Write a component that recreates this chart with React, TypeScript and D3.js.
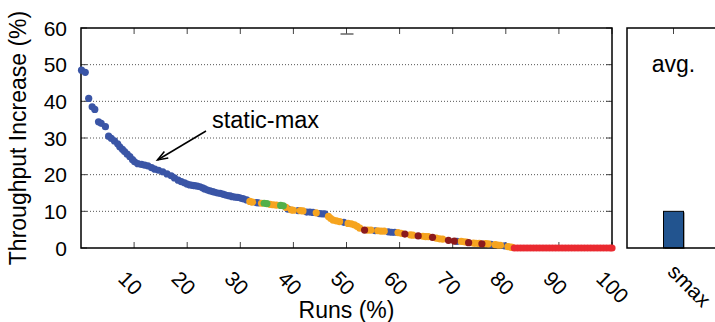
import * as d3 from "d3";
import React, { useEffect, useRef } from "react";

// runs (%) vs throughput increase (%), one list per policy colour
const blueRuns: [number, number][] = [
  [0.1, 48.5], [0.8, 47.9], [1.45, 40.8], [2.1, 38.5], [2.6, 37.8], [3.3, 34.4], [3.8, 34.0],
  [4.6, 33.1], [5.2, 30.5], [5.7, 29.9], [6.3, 29.2], [6.9, 28.4], [7.3, 27.6], [7.8, 26.9],
  [8.2, 26.3], [8.7, 25.6], [9.2, 24.9], [9.7, 24.1], [10.1, 23.5], [10.7, 23.0], [11.4, 22.8],
  [12.0, 22.6], [12.6, 22.4], [13.3, 21.9], [13.9, 21.5], [14.6, 21.2], [15.4, 20.8], [16.2, 20.2],
  [17.0, 19.7], [17.6, 19.1], [18.3, 18.5], [18.9, 18.1], [19.5, 17.8], [20.0, 17.4], [20.5, 17.2],
  [21.0, 17.1], [21.4, 17.0], [21.9, 16.9], [22.4, 16.7], [22.9, 16.4], [23.3, 16.1], [23.8, 15.8],
  [24.3, 15.6], [24.8, 15.4], [25.2, 15.2], [25.7, 15.0], [26.2, 14.9], [26.7, 14.7], [27.1, 14.5],
  [27.6, 14.3], [28.1, 14.2], [28.5, 14.0], [29.0, 13.9], [29.5, 13.8], [29.9, 13.7], [30.3, 13.5],
  [30.6, 13.4], [31.2, 13.1], [33.0, 12.4], [33.4, 12.3], [39.0, 10.6], [40.9, 10.2], [42.5, 9.8],
  [43.1, 9.8], [43.7, 9.7], [44.9, 9.4], [45.4, 9.3], [45.9, 9.3], [49.5, 7.0], [55.4, 4.7],
  [57.9, 4.4], [58.5, 4.3], [59.1, 4.3], [70.8, 1.8], [77.2, 1.0], [79.8, 0.6],
];
const orangeRuns: [number, number][] = [
  [31.8, 12.7], [32.3, 12.5], [34.0, 12.2], [35.6, 11.9], [36.2, 11.8], [36.8, 11.7], [38.6, 11.1],
  [39.6, 10.4], [40.0, 10.3], [41.3, 10.2], [41.8, 10.1], [44.3, 9.6], [46.6, 8.6], [47.0, 8.1],
  [47.5, 7.6], [48.1, 7.4], [48.7, 7.2], [50.3, 6.7], [50.9, 6.6], [51.5, 6.3], [52.0, 5.9],
  [52.5, 5.4], [54.0, 4.9], [54.6, 4.9], [55.9, 4.7], [56.5, 4.6], [57.1, 4.6], [59.7, 4.2],
  [60.3, 4.0], [62.0, 3.6], [62.5, 3.5], [64.4, 3.2], [64.9, 3.1], [65.4, 3.1], [66.9, 2.7],
  [67.5, 2.5], [68.1, 2.4], [71.6, 1.8], [72.1, 1.7], [72.6, 1.6], [73.9, 1.35], [74.4, 1.3],
  [75.0, 1.25], [76.2, 1.2], [76.7, 1.15], [78.0, 0.9], [78.5, 0.8], [79.0, 0.75], [80.4, 0.4],
  [80.9, 0.25], [81.2, 0.15],
];
const greenRuns: [number, number][] = [
  [34.5, 12.2], [35.0, 12.1], [37.6, 11.6], [38.1, 11.5],
];
const darkRedRuns: [number, number][] = [
  [53.4, 4.9], [61.0, 3.8], [63.5, 3.3], [66.2, 2.9], [69.2, 2.1], [70.3, 1.9], [73.0, 1.45], [75.5, 1.15],
];
const redRuns: [number, number][] = [
  [81.6, 0], [82.2, 0], [82.8, 0], [83.4, 0], [84.0, 0], [84.6, 0], [85.2, 0], [85.8, 0], [86.4, 0],
  [87.0, 0], [87.6, 0], [88.2, 0], [88.8, 0], [89.4, 0], [90.0, 0], [90.6, 0], [91.2, 0], [91.8, 0],
  [92.4, 0], [93.0, 0], [93.6, 0], [94.2, 0], [94.8, 0], [95.4, 0], [96.0, 0], [96.6, 0], [97.2, 0],
  [97.8, 0], [98.4, 0], [99.0, 0], [99.6, 0], [100.0, 0],
];

const yTicks = [0, 10, 20, 30, 40, 50, 60];
const xTicks = [10, 20, 30, 40, 50, 60, 70, 80, 90, 100];
const avgLabels = ["smax"];
const avgValues = [10];

const App = () => {
  const svgRef = useRef<SVGSVGElement>(null);

  useEffect(() => {
    const W = 715,
      H = 322;
    const left = 81,
      right = 612,
      top = 28,
      bottom = 248;
    const font = "'Liberation Sans', Arial, Helvetica, sans-serif";

    const svg = d3
      .select(svgRef.current)
      .html("")
      .attr("width", W)
      .attr("height", H)
      .attr("viewBox", `0 0 ${W} ${H}`);

    const x = d3.scaleLinear().domain([0, 100]).range([left, right]);
    const y = d3.scaleLinear().domain([0, 60]).range([bottom, top]);

    // dotted grid
    svg
      .append("g")
      .selectAll("line")
      .data(yTicks.filter((d) => d > 0 && d < 60))
      .enter()
      .append("line")
      .attr("x1", left)
      .attr("x2", right)
      .attr("y1", (d) => y(d))
      .attr("y2", (d) => y(d))
      .attr("stroke", "#555")
      .attr("stroke-width", 1)
      .attr("stroke-dasharray", "1,2");

    // ticks (inward, mirrored)
    const tk = svg.append("g").attr("stroke", "#444").attr("stroke-width", 1);
    yTicks.forEach((d) => {
      tk.append("line").attr("x1", left).attr("x2", left + 6).attr("y1", y(d)).attr("y2", y(d));
      tk.append("line").attr("x1", right - 6).attr("x2", right).attr("y1", y(d)).attr("y2", y(d));
    });
    xTicks.forEach((d) => {
      tk.append("line").attr("x1", x(d)).attr("x2", x(d)).attr("y1", bottom).attr("y2", bottom - 6);
      tk.append("line").attr("x1", x(d)).attr("x2", x(d)).attr("y1", top).attr("y2", top + 6);
    });
    // small cap below top tick at 50
    svg
      .append("line")
      .attr("x1", x(50) - 6)
      .attr("x2", x(50) + 7)
      .attr("y1", top + 6)
      .attr("y2", top + 6)
      .attr("stroke", "#666")
      .attr("stroke-width", 1.5);

    // frame of the left panel
    svg
      .append("rect")
      .attr("x", left)
      .attr("y", top)
      .attr("width", right - left)
      .attr("height", bottom - top)
      .attr("fill", "none")
      .attr("stroke", "#000")
      .attr("stroke-width", 1.5);

    // dots
    const series: [[number, number][], string][] = [
      [blueRuns, "#3a55a6"],
      [orangeRuns, "#f6a41f"],
      [greenRuns, "#52b04a"],
      [darkRedRuns, "#8c1a1c"],
      [redRuns, "#ea2a30"],
    ];
    series.forEach(([pts, c]) => {
      svg
        .append("g")
        .selectAll("circle")
        .data(pts)
        .enter()
        .append("circle")
        .attr("cx", (d) => x(d[0]))
        .attr("cy", (d) => y(d[1]))
        .attr("r", 3.6)
        .attr("fill", c);
    });

    // y tick labels
    svg
      .append("g")
      .selectAll("text")
      .data(yTicks)
      .enter()
      .append("text")
      .attr("x", 67)
      .attr("y", (d) => y(d) + 7.5)
      .attr("text-anchor", "end")
      .style("font-family", font)
      .style("font-size", "21px")
      .text((d) => d);

    // x tick labels, rotated
    svg
      .append("g")
      .selectAll("text")
      .data(xTicks)
      .enter()
      .append("text")
      .attr("transform", (d) => `translate(${x(d) - 17},${bottom + 32}) rotate(45)`)
      .attr("text-anchor", "start")
      .style("font-family", font)
      .style("font-size", "21px")
      .text((d) => d);

    // axis titles
    svg
      .append("text")
      .attr("transform", `translate(26,${(top + bottom) / 2}) rotate(-90)`)
      .attr("text-anchor", "middle")
      .style("font-family", font)
      .style("font-size", "23px")
      .text("Throughput Increase (%)");
    svg
      .append("text")
      .attr("x", (left + right) / 2)
      .attr("y", 318)
      .attr("text-anchor", "middle")
      .style("font-family", font)
      .style("font-size", "23px")
      .text("Runs (%)");

    // annotation
    svg
      .append("text")
      .attr("x", 212)
      .attr("y", 128)
      .style("font-family", font)
      .style("font-size", "23.5px")
      .text("static-max");
    const tip = [x(14.4), y(24.0)];
    const tail = [206, 131];
    const ang = Math.atan2(tail[1] - tip[1], tail[0] - tip[0]);
    svg
      .append("line")
      .attr("x1", tail[0])
      .attr("y1", tail[1])
      .attr("x2", tip[0])
      .attr("y2", tip[1])
      .attr("stroke", "#000")
      .attr("stroke-width", 1.5);
    const hl = 11,
      ha = 0.35;
    svg
      .append("path")
      .attr(
        "d",
        `M${tip[0] + hl * Math.cos(ang - ha)},${tip[1] + hl * Math.sin(ang - ha)} L${tip[0]},${tip[1]} L${
          tip[0] + hl * Math.cos(ang + ha)
        },${tip[1] + hl * Math.sin(ang + ha)}`
      )
      .attr("fill", "none")
      .attr("stroke", "#000")
      .attr("stroke-width", 1.5);

    // right panel: average bar
    const pLeft = 627,
      pRight = 720;
    const xb = d3.scalePoint<string>().domain(avgLabels).range([pLeft, pRight]).padding(0.5);
    const bw = 20;
    const bars = svg.append("g");
    avgLabels.forEach((lab, i) => {
      bars
        .append("rect")
        .attr("x", (xb(lab) as number) - bw / 2 + 1.5)
        .attr("y", y(avgValues[i]) + 1)
        .attr("width", bw)
        .attr("height", bottom - y(avgValues[i]))
        .attr("fill", "#aaa");
      bars
        .append("rect")
        .attr("x", (xb(lab) as number) - bw / 2)
        .attr("y", y(avgValues[i]))
        .attr("width", bw)
        .attr("height", bottom - y(avgValues[i]))
        .attr("fill", "#22548f")
        .attr("stroke", "#000")
        .attr("stroke-width", 1);
      svg
        .append("line")
        .attr("x1", xb(lab) as number)
        .attr("x2", xb(lab) as number)
        .attr("y1", top)
        .attr("y2", top + 6)
        .attr("stroke", "#444");
      svg
        .append("text")
        .attr("transform", `translate(${(xb(lab) as number) - 7},${bottom + 25}) rotate(45)`)
        .style("font-family", font)
        .style("font-size", "21px")
        .text(lab);
    });
    svg
      .append("path")
      .attr("d", `M${pRight},${top} L${pLeft},${top} L${pLeft},${bottom} L${pRight},${bottom}`)
      .attr("fill", "none")
      .attr("stroke", "#000")
      .attr("stroke-width", 1.5);
    svg
      .append("text")
      .attr("x", xb(avgLabels[0]) as number)
      .attr("y", 72)
      .attr("text-anchor", "middle")
      .style("font-family", font)
      .style("font-size", "23px")
      .text("avg.");
  }, []);

  return <svg ref={svgRef} style={{ position: "absolute", left: 0, top: 0 }}></svg>;
};

export default App;
